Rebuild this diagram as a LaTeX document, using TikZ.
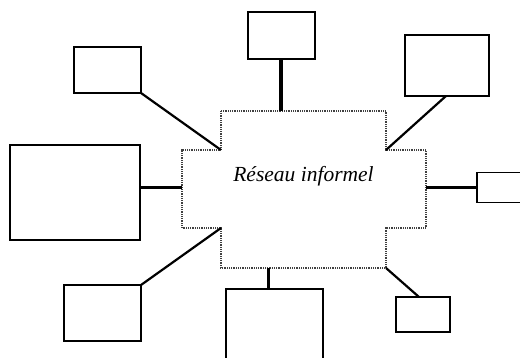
\documentclass[tikz,border=0pt]{standalone}
\usepackage{fontspec}
\setmainfont{Liberation Serif}
\begin{document}
\begin{tikzpicture}[x=1pt,y=-1pt,
  box/.style={draw,line width=1.8pt,inner sep=0pt,outer sep=0pt,anchor=north west},
  link/.style={line width=2.2pt},
  stem/.style={line width=3.4pt},
  cloud/.style={draw=black!75,line width=1.2pt,dash pattern=on 1pt off 0.8pt}]
\useasboundingbox (0,0) rectangle (520,358);
\clip (0,0) rectangle (520,358);
% central shape corners
\coordinate (tl) at (221,111);
\coordinate (tr) at (386,111);
\coordinate (itr) at (386,150);
\coordinate (rt) at (426,150);
\coordinate (rb) at (426,228);
\coordinate (ibr) at (386,228);
\coordinate (br) at (386,268);
\coordinate (bl) at (221,268);
\coordinate (ibl) at (221,228);
\coordinate (lb) at (182,228);
\coordinate (lt) at (182,150);
\coordinate (itl) at (221,150);
\draw[cloud] (tl) -- (tr) -- (itr) -- (rt) -- (rb) -- (ibr) -- (br) -- (bl) -- (ibl) -- (lb) -- (lt) -- (itl) -- cycle;
\node[font=\fontsize{21.5}{24}\selectfont\itshape,anchor=base] (lbl) at (303.5,181.5) {Réseau informel};
% boxes
\node[box,minimum width=67pt,minimum height=47pt] (top) at (248,12) {};
\node[box,minimum width=67pt,minimum height=46pt] (topleft) at (74,47) {};
\node[box,minimum width=84pt,minimum height=61pt] (topright) at (405,35) {};
\node[box,minimum width=130pt,minimum height=95pt] (left) at (10,145) {};
\node[box,minimum width=60pt,minimum height=30pt] (right) at (477,172.5) {};
\node[box,minimum width=77pt,minimum height=56pt] (botleft) at (64,285) {};
\node[box,minimum width=97pt,minimum height=90pt] (bottom) at (226,289) {};
\node[box,minimum width=54pt,minimum height=35pt] (botright) at (396,297) {};
% connectors
\coordinate (topfoot) at (281,111);
\coordinate (leftfoot) at (182,187.5);
\coordinate (rightfoot) at (426,187.5);
\coordinate (botfoot) at (268.5,268);
\coordinate (trfoot) at (446,96);
\coordinate (brfoot) at (419,297);
\draw[stem] (topfoot |- top.south) -- (topfoot);
\draw[link] (topleft.south east) -- (itl);
\draw[link] (trfoot) -- (itr);
\draw[link] (left.east |- leftfoot) -- (leftfoot);
\draw[link] (rightfoot) -- (right.west |- rightfoot);
\draw[link] (botleft.north east) -- (ibl);
\draw[stem] (botfoot) -- (botfoot |- bottom.north);
\draw[link] (br) -- (brfoot);
\end{tikzpicture}
\end{document}
